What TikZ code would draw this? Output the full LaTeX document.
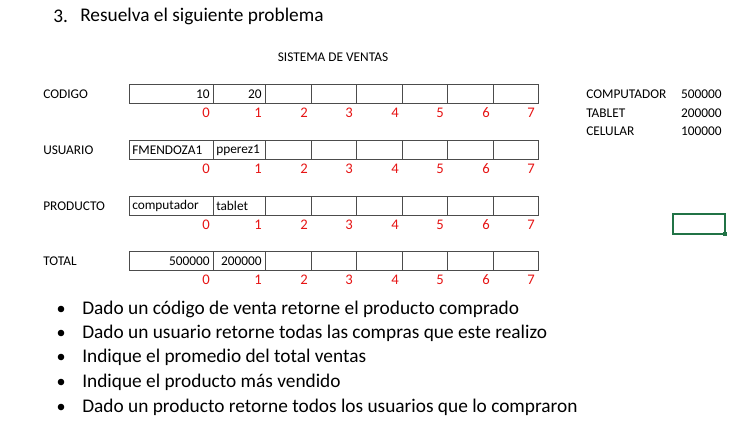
\documentclass[tikz,border=0pt]{standalone}
\usepackage{fontspec}
\setmainfont{Carlito}
\definecolor{xlgreen}{RGB}{33,115,70}
\definecolor{xlred}{RGB}{230,20,20}

\tikzset{
  lbl/.style={font=\fontsize{10}{12}\selectfont, inner sep=0pt},
  idx/.style={font=\fontsize{11}{13}\selectfont, text=xlred, inner sep=0pt, anchor=east},
  cell/.style={draw=black!70, line width=0.6pt},
  big/.style={font=\fontsize{14.5}{17}\selectfont, inner sep=0pt, anchor=west}
}

\begin{document}
\begin{tikzpicture}[x=0.75pt,y=-0.75pt]
  \useasboundingbox (0,0) rectangle (745,433);

  % encabezado
  \node (num) at (53,16) [big] {3.};
  \node (tit) at (80,16) [big] {Resuelva el siguiente problema};
  \node (sis) at (333,57) [lbl] {SISTEMA DE VENTAS};

  % arreglos
  \foreach \r/\y/\nom in {cod/94/CODIGO,usu/150/USUARIO,pro/206/PRODUCTO,tot/261/TOTAL} {
    \node (\r) at (43,\y) [lbl,anchor=west] {\nom};
    \foreach \i/\a/\b in {0/129/213,1/213/265,2/265/311,3/311/356,4/356/402,5/402/447,6/447/493,7/493/538} {
      \draw[cell] (\a,\y-9.5) rectangle (\b,\y+9.5);
      \node (\r\i) at (\b-3,\y+19) [idx] {\i};
    }
  }
  \node (cod-a) at (210,94) [lbl,anchor=east] {10};
  \node (cod-b) at (262,94) [lbl,anchor=east] {20};
  \node (usu-a) at (132,150) [lbl,anchor=west] {FMENDOZA1};
  \node (usu-b) at (216,150) [lbl,anchor=west] {pperez1};
  \node (pro-a) at (132,206) [lbl,anchor=west] {computador};
  \node (pro-b) at (216,206) [lbl,anchor=west] {tablet};
  \node (tot-a) at (210,261) [lbl,anchor=east] {500000};
  \node (tot-b) at (262,261) [lbl,anchor=east] {200000};

  % precios
  \foreach \p/\y/\nom/\val in {pc/94/COMPUTADOR/500000,tab/113/TABLET/200000,cel/131/CELULAR/100000} {
    \node (\p) at (586,\y) [lbl,anchor=west] {\nom};
    \node (\p v) at (722,\y) [lbl,anchor=east] {\val};
  }

  % celda seleccionada
  \draw[xlgreen, line width=1pt] (673,214) rectangle (725,234);
  \fill[xlgreen] (723,232) rectangle (727,236);

  % preguntas
  \foreach \k/\y/\txt in {1/309/Dado un código de venta retorne el producto comprado,
                          2/333/Dado un usuario retorne todas las compras que este realizo,
                          3/357/Indique el promedio del total ventas,
                          4/382/Indique el producto más vendido,
                          5/407/Dado un producto retorne todos los usuarios que lo compraron} {
    \fill (61,\y) circle (3.3);
    \node (q\k) at (82,\y) [big] {\txt};
  }
\end{tikzpicture}
\end{document}
